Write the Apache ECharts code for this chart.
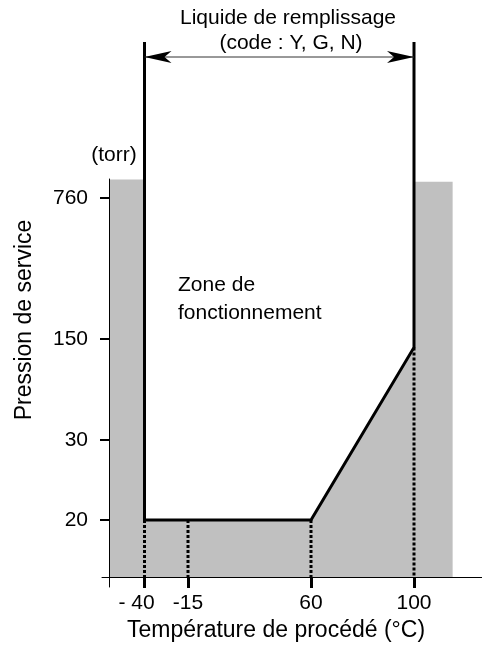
<!DOCTYPE html>
<html><head><meta charset="utf-8">
<script src="https://cdn.jsdelivr.net/npm/echarts@6/dist/echarts.min.js"></script>
<style>html,body{margin:0;padding:0;background:#fff}#c{width:482px;height:650px}</style>
</head><body><div id="c"></div>
<script>
// ---------------- Data ----------------
const tempTicks = [-40, -15, 60, 100];                 // °C
const tempTickLabels = ['- 40', '-15', '60', '100'];
const pressTicks = [20, 30, 150, 760];                 // torr
const pressTickLabels = ['20', '30', '150', '760'];
// operating-zone limit (open towards the top -> Infinity)
const limitTemp  = [-40, -40, 60, 100, 100];
const limitPress = [Infinity, 20, 20, 140, Infinity];
// shaded (non-operating) region outline (-Infinity = axis baseline)
const shadeTemp  = [-60, -60, -40, -40, 60, 100, 100, 115, 115];
const shadePress = [-Infinity, 840, 840, 20, 20, 140, 830, 830, -Infinity];
// dotted drop lines
const dropTemp  = [-40, -15, 60, 100];
const dropPress = [20, 20, 20, 140];
// filling-liquid range (double arrow)
const fillRangeTemp = [-40, 100];
const fillRangePress = 1370;

// ---------------- Schematic (non-proportional) axis scales ----------------
const xKnots = { v: [-40, -15, 60, 100], u: [35.5, 79, 202, 305] };
const yKnots = { v: [20, 30, 150, 760], u: [57, 137, 238, 379] };
const Y_OPEN_TOP = 535;
function pw(k, v, lo, hi) {
  if (v === Infinity) return hi;
  if (v === -Infinity) return lo;
  const n = k.v.length; let i = 0;
  if (v <= k.v[0]) i = 0; else if (v >= k.v[n - 1]) i = n - 2;
  else { while (v > k.v[i + 1]) i++; }
  const t = (v - k.v[i]) / (k.v[i + 1] - k.v[i]);
  return k.u[i] + t * (k.u[i + 1] - k.u[i]);
}
const xu = v => pw(xKnots, v, 0, 373);
const yu = v => pw(yKnots, v, 0, Y_OPEN_TOP);

const FONT = "'Liberation Sans', Arial, Helvetica, sans-serif";
const chart = echarts.init(document.getElementById('c'), null, { renderer: 'canvas' });

function polyRender(tArr, pArr, style, closed) {
  return function (params, api) {
    const pts = tArr.map((t, i) => api.coord([xu(t), yu(pArr[i])]));
    return { type: closed ? 'polygon' : 'polyline', shape: { points: pts }, style: style, silent: true };
  };
}

const option = {
  animation: false,
  grid: { left: 102, right: 0, top: 179, bottom: 63, containLabel: false },
  xAxis: {
    type: 'value', min: -7, max: 373, z: 3,
    splitLine: { show: false },
    axisLine: { onZero: true, lineStyle: { color: '#000', width: 1 } },
    axisTick: { customValues: tempTicks.map(xu), length: 11, lineStyle: { color: '#000', width: 3 } },
    axisLabel: {
      customValues: tempTicks.map(xu), margin: 6, color: '#000', fontSize: 21, fontFamily: FONT,
      formatter: function (v) {
        let idx = 0, best = 1e9;
        tempTicks.forEach((t, i) => { const d = Math.abs(xu(t) - v); if (d < best) { best = d; idx = i; } });
        return idx === 0 ? '{s|' + tempTickLabels[idx] + '}' : tempTickLabels[idx];
      },
      rich: { s: { fontSize: 21, fontFamily: FONT, color: '#000', padding: [0, 16, 0, 0] } }
    }
  },
  yAxis: {
    type: 'value', min: -10, max: 398, z: 3,
    splitLine: { show: false },
    axisLine: { onZero: true, lineStyle: { color: '#000', width: 1 } },
    axisTick: { customValues: pressTicks.map(yu), length: 9, lineStyle: { color: '#000', width: 2 } },
    axisLabel: {
      customValues: pressTicks.map(yu), margin: 14, color: '#000', fontSize: 21, fontFamily: FONT,
      formatter: function (v) {
        let idx = 0, best = 1e9;
        pressTicks.forEach((p, i) => { const d = Math.abs(yu(p) - v); if (d < best) { best = d; idx = i; } });
        return pressTickLabels[idx];
      }
    }
  },
  series: [
    {
      name: 'shade', type: 'custom', z: 1, clip: false, data: [[0, 0]],
      renderItem: polyRender(shadeTemp, shadePress, { fill: '#c0c0c0', stroke: null }, true)
    },
    {
      name: 'drops', type: 'custom', z: 4, clip: false, data: [[0, 0]],
      renderItem: function (params, api) {
        return {
          type: 'group', silent: true,
          children: dropTemp.map((t, i) => {
            const a = api.coord([xu(t), yu(dropPress[i])]);
            const b = api.coord([xu(t), 0]);
            return { type: 'line', shape: { x1: a[0], y1: a[1], x2: b[0], y2: b[1] },
              style: { stroke: '#000', lineWidth: 3, lineDash: [3, 2] } };
          })
        };
      }
    },
    {
      name: 'limit', type: 'custom', z: 5, clip: false, data: [[0, 0]],
      renderItem: polyRender(limitTemp, limitPress, { stroke: '#000', lineWidth: 3, fill: null, lineJoin: 'miter' }, false)
    },
    {
      name: 'fillRange', type: 'custom', z: 5, clip: false, data: [[0, 0]],
      renderItem: function (params, api) {
        const a = api.coord([xu(fillRangeTemp[0]), yu(fillRangePress)]);
        const b = api.coord([xu(fillRangeTemp[1]), yu(fillRangePress)]);
        const L = 27, W = 6, N = 20;
        return {
          type: 'group', silent: true,
          children: [
            { type: 'line', shape: { x1: a[0], y1: a[1], x2: b[0], y2: b[1] }, style: { stroke: '#333', lineWidth: 1 } },
            { type: 'polygon', shape: { points: [[a[0], a[1]], [a[0] + L, a[1] - W], [a[0] + N, a[1]], [a[0] + L, a[1] + W]] }, style: { fill: '#000' } },
            { type: 'polygon', shape: { points: [[b[0], b[1]], [b[0] - L, b[1] - W], [b[0] - N, b[1]], [b[0] - L, b[1] + W]] }, style: { fill: '#000' } }
          ]
        };
      }
    }
  ],
  graphic: [
    { type: 'text', x: 288, y: 18, style: { text: 'Liquide de remplissage', font: '21px ' + FONT, fill: '#000', textAlign: 'center', textVerticalAlign: 'middle', align: 'center', verticalAlign: 'middle' } },
    { type: 'text', x: 291, y: 43, style: { text: '(code : Y, G, N)', font: '21px ' + FONT, fill: '#000', textAlign: 'center', textVerticalAlign: 'middle', align: 'center', verticalAlign: 'middle' } },
    { type: 'text', x: 114, y: 155, style: { text: '(torr)', font: '21px ' + FONT, fill: '#000', textAlign: 'center', textVerticalAlign: 'middle', align: 'center', verticalAlign: 'middle' } },
    { type: 'text', x: 178, y: 285, style: { text: 'Zone de', font: '21px ' + FONT, fill: '#000', textAlign: 'left', textVerticalAlign: 'middle', align: 'left', verticalAlign: 'middle' } },
    { type: 'text', x: 178, y: 313, style: { text: 'fonctionnement', font: '21px ' + FONT, fill: '#000', textAlign: 'left', textVerticalAlign: 'middle', align: 'left', verticalAlign: 'middle' } },
    { type: 'text', x: 25, y: 320, rotation: Math.PI / 2, style: { text: 'Pression de service', font: '23px ' + FONT, fill: '#000', textAlign: 'center', textVerticalAlign: 'middle', align: 'center', verticalAlign: 'middle' } },
    { type: 'text', x: 276, y: 631, style: { text: 'Température de procédé (°C)', font: '23px ' + FONT, fill: '#000', textAlign: 'center', textVerticalAlign: 'middle', align: 'center', verticalAlign: 'middle' } }
  ]
};
chart.setOption(option);
</script>
</body></html>
